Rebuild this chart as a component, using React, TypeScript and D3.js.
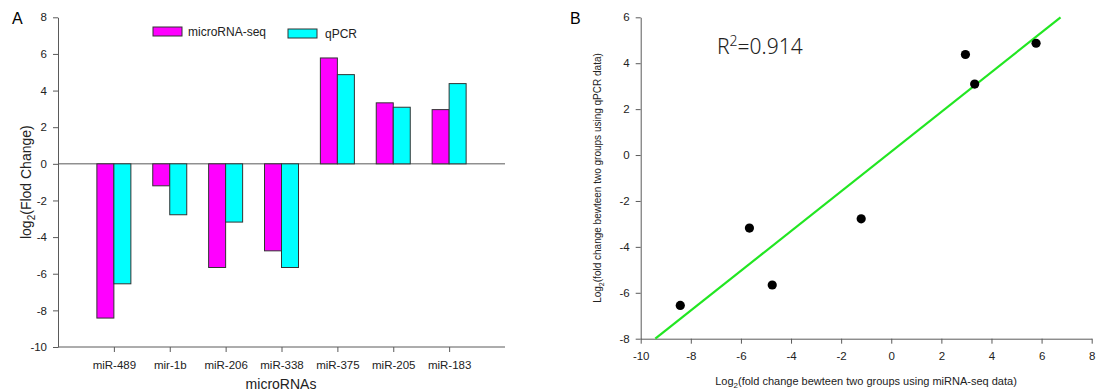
import * as d3 from "d3";
import { useRef, useEffect } from "react";

// categories and series values
const microRNAs = ["miR-489", "mir-1b", "miR-206", "miR-338", "miR-375", "miR-205", "miR-183"];
const seqValues = [-8.42, -1.2, -5.66, -4.75, 5.78, 3.33, 2.96];
const qpcrValues = [-6.55, -2.78, -3.18, -5.66, 4.87, 3.09, 4.38];
const barTicks = [-10, -8, -6, -4, -2, 0, 2, 4, 6, 8];
const scatterXTicks = [-10, -8, -6, -4, -2, 0, 2, 4, 6, 8];
const scatterYTicks = [-8, -6, -4, -2, 0, 2, 4, 6];

const FONT = "'Liberation Sans', Arial, sans-serif";
const AXIS = "#5a5a5a";
// plain hyphen for negatives, like the original figure
const fmt = (d: d3.NumberValue) => String(d);

export default function App() {
    const svgRef = useRef<SVGSVGElement>(null);

    useEffect(() => {
        const svg = d3.select(svgRef.current);
        svg.selectAll("*").remove();

        // ---------- panel A: grouped bars ----------
        const a = { left: 58, right: 505, top: 17.3, bottom: 347 };
        const x = d3.scalePoint<string>().domain(microRNAs).range([a.left, a.right]).padding(1);
        const y = d3.scaleLinear().domain([-10, 8]).range([a.bottom, a.top]);
        const barW = 17;

        const gA = svg.append("g");

        // y axis
        const yAxis = gA.append("g")
            .attr("transform", `translate(${a.left},0)`)
            .call(d3.axisLeft(y).tickValues(barTicks).tickFormat(fmt).tickSize(5).tickSizeOuter(0).tickPadding(6));
        // bottom axis
        const xAxis = gA.append("g")
            .attr("transform", `translate(0,${a.bottom})`)
            .call(d3.axisBottom(x).tickSize(5).tickSizeOuter(0).tickPadding(9));
        xAxis.select(".domain").attr("d", `M${a.left},0H${a.right}`);

        [yAxis, xAxis].forEach(ax => {
            ax.selectAll("path, line").attr("stroke", AXIS);
            ax.selectAll("text").attr("fill", "#222").style("font-family", FONT).style("font-size", "11.5px");
        });

        // zero line
        gA.append("line")
            .attr("x1", a.left).attr("x2", a.right)
            .attr("y1", y(0)).attr("y2", y(0))
            .attr("stroke", AXIS);

        // bars
        const series = [
            { name: "microRNA-seq", values: seqValues, color: "#ff00ff", offset: -barW },
            { name: "qPCR", values: qpcrValues, color: "#00ffff", offset: 0 },
        ];
        series.forEach(s => {
            gA.selectAll(null)
                .data(microRNAs)
                .enter()
                .append("rect")
                .attr("x", d => x(d)! + s.offset)
                .attr("width", barW)
                .attr("y", (d, i) => Math.min(y(0), y(s.values[i])))
                .attr("height", (d, i) => Math.abs(y(s.values[i]) - y(0)))
                .attr("fill", s.color)
                .attr("stroke", "#333")
                .attr("stroke-width", 1);
        });

        // legend
        const legendPos = [{ x: 153, y: 27 }, { x: 288, y: 29 }];
        series.forEach((s, i) => {
            gA.append("rect")
                .attr("x", legendPos[i].x).attr("y", legendPos[i].y)
                .attr("width", 29).attr("height", 9)
                .attr("fill", s.color).attr("stroke", "#333");
            gA.append("text")
                .attr("x", legendPos[i].x + (i === 0 ? 35 : 37))
                .attr("y", legendPos[i].y + 9)
                .style("font-family", FONT).style("font-size", "12px")
                .attr("fill", "#222")
                .text(s.name);
        });

        // titles
        gA.append("text")
            .attr("x", 12).attr("y", 24)
            .style("font-family", FONT).style("font-size", "16px")
            .text("A");
        gA.append("text")
            .attr("x", 281).attr("y", 389)
            .attr("text-anchor", "middle")
            .style("font-family", FONT).style("font-size", "14px")
            .attr("fill", "#222")
            .text("microRNAs");
        const yTitle = gA.append("text")
            .attr("transform", `translate(31,${(a.top + a.bottom) / 2}) rotate(-90)`)
            .attr("text-anchor", "middle")
            .style("font-family", FONT).style("font-size", "14px")
            .attr("fill", "#222");
        yTitle.append("tspan").text("log");
        yTitle.append("tspan").attr("dy", 4).style("font-size", "10px").text("2");
        yTitle.append("tspan").attr("dy", -4).text("(Flod Change)");

        // ---------- panel B: scatter with regression ----------
        const b = { left: 640.7, right: 1091.7, top: 17.3, bottom: 338.7 };
        const sx = d3.scaleLinear().domain([-10, 8]).range([b.left, b.right]);
        const sy = d3.scaleLinear().domain([-8, 6]).range([b.bottom, b.top]);

        const gB = svg.append("g");

        const bx = gB.append("g")
            .attr("transform", `translate(0,${b.bottom})`)
            .call(d3.axisBottom(sx).tickValues(scatterXTicks).tickFormat(fmt).tickSize(5).tickSizeOuter(0).tickPadding(8));
        const by = gB.append("g")
            .attr("transform", `translate(${b.left},0)`)
            .call(d3.axisLeft(sy).tickValues(scatterYTicks).tickFormat(fmt).tickSize(5).tickSizeOuter(0).tickPadding(6));
        [bx, by].forEach(ax => {
            ax.selectAll("path, line").attr("stroke", AXIS);
            ax.selectAll("text").attr("fill", "#222").style("font-family", FONT).style("font-size", "11.5px");
        });

        // least squares fit of qPCR on miRNA-seq
        const mx = d3.mean(seqValues)!;
        const my = d3.mean(qpcrValues)!;
        const sxy = d3.sum(seqValues, (v, i) => (v - mx) * (qpcrValues[i] - my));
        const sxx = d3.sum(seqValues, v => (v - mx) ** 2);
        const slope = sxy / sxx;
        const intercept = my - slope * mx;
        const [y0, y1] = sy.domain();
        const fit = [y0, y1].map(v => [(v - intercept) / slope, v] as [number, number]);

        gB.append("path")
            .datum(fit)
            .attr("d", d3.line<[number, number]>().x(d => sx(d[0])).y(d => sy(d[1])))
            .attr("stroke", "#22e622")
            .attr("stroke-width", 2.2)
            .attr("fill", "none");

        gB.selectAll("circle")
            .data(seqValues)
            .enter()
            .append("circle")
            .attr("cx", d => sx(d))
            .attr("cy", (d, i) => sy(qpcrValues[i]))
            .attr("r", 4.6)
            .attr("fill", "#000");

        gB.append("text")
            .attr("x", 570).attr("y", 24)
            .style("font-family", FONT).style("font-size", "16px")
            .text("B");

        const r2 = gB.append("text")
            .attr("x", 717).attr("y", 54)
            .style("font-family", "'Noto Sans', sans-serif").style("font-size", "21px")
            .style("font-weight", 300)
            .attr("fill", "#222");
        r2.append("tspan").text("R");
        r2.append("tspan").attr("dy", -8).style("font-size", "14px").text("2");
        r2.append("tspan").attr("dy", 8).text("=0.914");

        const bxTitle = gB.append("text")
            .attr("x", 866).attr("y", 385)
            .attr("text-anchor", "middle")
            .style("font-family", FONT).style("font-size", "11px")
            .attr("fill", "#222");
        bxTitle.append("tspan").text("Log");
        bxTitle.append("tspan").attr("dy", 3).style("font-size", "8px").text("2");
        bxTitle.append("tspan").attr("dy", -3).text("(fold change bewteen two groups using miRNA-seq data)");

        const byTitle = gB.append("text")
            .attr("transform", `translate(601,${(b.top + b.bottom) / 2}) rotate(-90)`)
            .attr("text-anchor", "middle")
            .style("font-family", FONT).style("font-size", "10px")
            .attr("fill", "#222");
        byTitle.append("tspan").text("Log");
        byTitle.append("tspan").attr("dy", 3).style("font-size", "7px").text("2");
        byTitle.append("tspan").attr("dy", -3).text("(fold change bewteen two groups using qPCR data)");
    }, []);

    return (
        <svg
            ref={svgRef}
            width={1099}
            height={392}
            style={{ position: "absolute", left: 0, top: 0, background: "#fff" }}
        />
    );
}
